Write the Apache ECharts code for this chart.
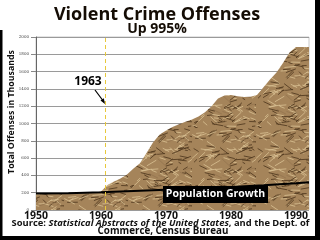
<!DOCTYPE html>
<html><head><meta charset="utf-8">
<script src="https://cdn.jsdelivr.net/npm/echarts@6/dist/echarts.min.js"></script>
<style>html,body{margin:0;padding:0;background:#fff}#c{width:320px;height:240px}</style>
</head><body><div id="c"></div>
<script>
// ---- data ----
const crimeYears = [1950,1955,1959,1960,1961,1962,1963,1964,1965,1966,1967,1968,1969,1970,1971,1972,1973,1974,1975,1976,1977,1978,1979,1980,1981,1982,1983,1984,1985,1986,1987,1988,1989,1990,1991,1992];
const crimeValues = [185,190,200,215,290,330,365,410,480,540,660,780,870,920,960,990,1020,1045,1080,1130,1200,1290,1325,1330,1315,1305,1310,1330,1420,1510,1590,1700,1820,1884,1884,1884];
const popYears = [1950,1955,1960,1965,1970,1975,1980,1985,1990,1992];
const popValues = [190,195,205,220,235,250,265,285,310,322];
const yTicks = [0,200,400,600,800,1000,1200,1400,1600,1800,2000];
const xTickLabels = ['1950','1960','1970','1980','1990'];
const markYearPos = 1960.6;
const markLabel = '1963';

// ---- texture ----
function makeTexture(){
  const c = document.createElement('canvas'); c.width = 64; c.height = 64;
  const g = c.getContext('2d');
  g.fillStyle = '#a5845a'; g.fillRect(0,0,64,64);
  let s = 12345;
  const rnd = () => { s = (s * 1103515245 + 12345) & 0x7fffffff; return s / 0x7fffffff; };
  for (let i = 0; i < 160; i++) {
    const x = rnd()*64, y = rnd()*64, l = 3 + rnd()*9, a = -0.8 + rnd()*1.6;
    const k = rnd();
    g.strokeStyle = k < 0.45 ? 'rgba(80,56,30,0.85)' : (k < 0.9 ? 'rgba(215,190,145,0.85)' : 'rgba(150,118,80,0.9)');
    g.lineWidth = 1;
    g.beginPath(); g.moveTo(x, y); g.lineTo(x + Math.cos(a)*l, y + Math.sin(a)*l); g.stroke();
  }
  return c;
}

const chart = echarts.init(document.getElementById('c'), null, {renderer:'canvas'});
const FONT = '"Open Sans", "DejaVu Sans", sans-serif';
chart.setOption({
  animation: false,
  backgroundColor: '#fff',
  grid: {left: 36, right: 11, top: 37, bottom: 30, show: true, borderColor: '#c8c8c8', borderWidth: 1,
         containLabel: false, outerBoundsMode: 'none'},
  xAxis: {
    type: 'value', min: 1950, max: 1992, interval: 10,
    axisLine: {show: false}, axisTick: {show: false}, splitLine: {show: false},
    axisLabel: {
      margin: 1, fontFamily: FONT, fontWeight: 'bold', fontSize: 10.5, color: '#111',
      formatter: v => xTickLabels.indexOf(String(v)) >= 0 ? String(v) : ''
    }
  },
  yAxis: {
    type: 'value', min: 0, max: 2000, interval: 200,
    axisLine: {show: true, lineStyle: {color: '#666', width: 1}},
    axisTick: {show: true, length: 5, lineStyle: {color: '#888'}},
    splitLine: {show: true, lineStyle: {color: '#9a9a9a', width: 1}},
    axisLabel: {margin: 7, fontFamily: '"DejaVu Serif", serif', fontSize: 4, color: '#444',
      formatter: v => yTicks.indexOf(v) >= 0 ? String(v) : ''}
  },
  series: [
    {
      type: 'line', data: crimeYears.map((y,i)=>[y, crimeValues[i]]),
      symbol: 'none', lineStyle: {width: 0},
      areaStyle: {color: {image: makeTexture(), repeat: 'repeat'}, opacity: 1},
      markLine: {
        silent: true, symbol: ['none','none'], label: {show: false},
        lineStyle: {color: '#e8c83c', type: [4,3], width: 1},
        data: [{xAxis: markYearPos}]
      },
      z: 2
    },
    {
      type: 'line', data: popYears.map((y,i)=>[y, popValues[i]]),
      symbol: 'none', lineStyle: {color: '#000', width: 2}, z: 3
    }
  ],
  graphic: [
    {type: 'rect', shape: {x: 315, y: 0, width: 5, height: 240}, style: {fill: '#000'}, z: 100},
    {type: 'rect', shape: {x: 0, y: 236, width: 320, height: 4}, style: {fill: '#000'}, z: 100},
    {type: 'rect', shape: {x: 0, y: 30, width: 2.5, height: 210}, style: {fill: '#000'}, z: 100},
    {type: 'text', x: 11.5, y: 112, rotation: Math.PI / 2, style: {text: 'Total Offenses in Thousands', font: 'bold 8.8px ' + FONT, fill: '#111', textAlign: 'center', textVerticalAlign: 'middle'}, z: 100},
    {type: 'text', x: 157, y: 15, style: {text: 'Violent Crime Offenses', font: 'bold 18px ' + FONT, fill: '#140c04', textAlign: 'center', textVerticalAlign: 'middle'}, z: 100},
    {type: 'text', x: 157, y: 29.5, style: {text: 'Up 995%', font: 'bold 14px ' + FONT, fill: '#140c04', textAlign: 'center', textVerticalAlign: 'middle'}, z: 100},
    {type: 'text', x: 88, y: 82, style: {text: markLabel, font: 'bold 12px ' + FONT, fill: '#000', textAlign: 'center', textVerticalAlign: 'middle'}, z: 100},
    {type: 'line', shape: {x1: 95, y1: 90, x2: 104, y2: 102}, style: {stroke: '#000', lineWidth: 1.2}, z: 100},
    {type: 'polygon', shape: {points: [[105,104],[100.5,100.5],[103.8,98.2]]}, style: {fill: '#000'}, z: 100},
    {type: 'rect', shape: {x: 163, y: 186, width: 105, height: 17}, style: {fill: '#000'}, z: 100},
    {type: 'text', x: 215.5, y: 194.5, style: {text: 'Population Growth', font: 'bold 10.5px ' + FONT, fill: '#fff', textAlign: 'center', textVerticalAlign: 'middle'}, z: 101},
    {type: 'text', x: 160.5, y: 223.5, style: {
      text: '{a|Source: }{b|Statistical Abstracts of the United States}{a|, and the Dept. of}',
      rich: {a: {font: 'bold 9.4px ' + FONT, fill: '#111'}, b: {font: 'italic bold 9.4px ' + FONT, fill: '#111'}},
      textAlign: 'center', textVerticalAlign: 'middle'}, z: 100},
    {type: 'text', x: 163, y: 231.5, style: {text: 'Commerce, Census Bureau', font: 'bold 9.8px ' + FONT, fill: '#111', textAlign: 'center', textVerticalAlign: 'middle'}, z: 100}
  ]
});
</script></body></html>
